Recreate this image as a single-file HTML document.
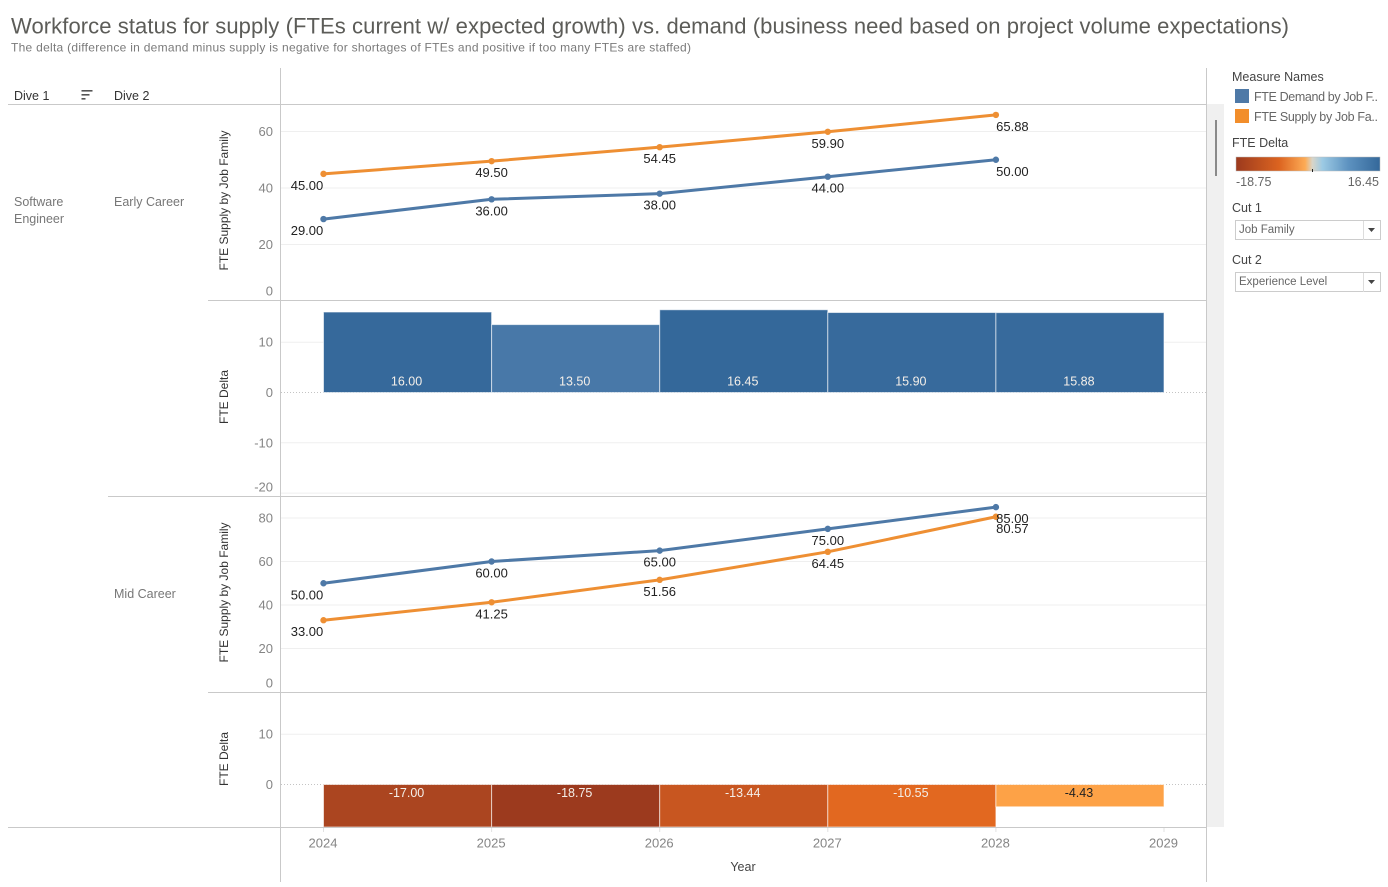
<!DOCTYPE html>
<html lang="en">
<head>
<meta charset="utf-8">
<title>Workforce status</title>
<style>
  html, body { margin: 0; padding: 0; background: #fff; }
  svg { display: block; }
  text { font-family: "Liberation Sans", sans-serif; dominant-baseline: central; }
</style>
</head>
<body>
<svg id="chart" xmlns="http://www.w3.org/2000/svg" width="1388" height="887" viewBox="0 0 1388 887">
  <rect width="1388" height="887" fill="#fff"/>
  <text x="11" y="26" font-size="22" fill="#5c5c58" textLength="1278" lengthAdjust="spacing">Workforce status for supply (FTEs current w/ expected growth) vs. demand (business need based on project volume expectations)</text>
  <text x="11" y="47.5" font-size="12" fill="#7a7a7a" textLength="680" lengthAdjust="spacing">The delta (difference in demand minus supply is negative for shortages of FTEs and positive if too many FTEs are staffed)</text>

  <text x="14" y="96" font-size="12.5" fill="#333">Dive 1</text>
  <g fill="#555">
    <rect x="81.5" y="90" width="11" height="1.6"/>
    <rect x="81.5" y="94" width="8" height="1.6"/>
    <rect x="81.5" y="98" width="4" height="1.6"/>
  </g>
  <text x="114" y="96" font-size="12.5" fill="#333">Dive 2</text>
  <text x="14" y="202" font-size="12.5" fill="#777">Software</text>
  <text x="14" y="219" font-size="12.5" fill="#777">Engineer</text>
  <text x="114" y="202" font-size="12.5" fill="#777">Early Career</text>
  <text x="114" y="594" font-size="12.5" fill="#777">Mid Career</text>

  <g id="plot"></g>

  <g stroke="#c9c9c9" stroke-width="1">
    <line x1="8" y1="104.5" x2="1206" y2="104.5"/>
    <line x1="208" y1="300.5" x2="1206" y2="300.5"/>
    <line x1="108" y1="496.5" x2="1206" y2="496.5"/>
    <line x1="208" y1="692.5" x2="1206" y2="692.5"/>
    <line x1="8" y1="827.5" x2="1206" y2="827.5"/>
    <line x1="280.5" y1="68" x2="280.5" y2="882"/>
    <line x1="1206.5" y1="68" x2="1206.5" y2="882"/>
  </g>

  <rect x="1207" y="104" width="17" height="723" fill="#f0f0f0"/>
  <rect x="1215" y="120" width="2" height="56" fill="#8a8a8a"/>

  <text x="743" y="867" font-size="12.5" fill="#444" text-anchor="middle">Year</text>
  <text transform="translate(224 200.5) rotate(-90)" font-size="12" fill="#333" text-anchor="middle">FTE Supply by Job Family</text>
  <text transform="translate(224 397) rotate(-90)" font-size="12" fill="#333" text-anchor="middle">FTE Delta</text>
  <text transform="translate(224 592.5) rotate(-90)" font-size="12" fill="#333" text-anchor="middle">FTE Supply by Job Family</text>
  <text transform="translate(224 759) rotate(-90)" font-size="12" fill="#333" text-anchor="middle">FTE Delta</text>

  <g>
    <text x="1232" y="77" font-size="12.5" fill="#444">Measure Names</text>
    <rect x="1235" y="89" width="14" height="14" fill="#4e79a7"/>
    <text x="1254" y="97" font-size="12.5" fill="#666" textLength="124" lengthAdjust="spacing">FTE Demand by Job F..</text>
    <rect x="1235" y="109" width="14" height="14" fill="#f28e2b"/>
    <text x="1254" y="117" font-size="12.5" fill="#666" textLength="124" lengthAdjust="spacing">FTE Supply by Job Fa..</text>
  </g>

  <defs>
    <linearGradient id="delta-gradient" x1="0" y1="0" x2="1" y2="0">
      <stop offset="0" stop-color="#9c3a1e"/>
      <stop offset="0.3" stop-color="#dc6420"/>
      <stop offset="0.48" stop-color="#fdab55"/>
      <stop offset="0.53" stop-color="#d9d5c8"/>
      <stop offset="0.6" stop-color="#9ccae4"/>
      <stop offset="0.78" stop-color="#5d92c0"/>
      <stop offset="1" stop-color="#34689a"/>
    </linearGradient>
  </defs>
  <g>
    <text x="1232" y="143" font-size="12.5" fill="#444">FTE Delta</text>
    <rect x="1236" y="157" width="144" height="14" fill="url(#delta-gradient)" stroke="#bbb" stroke-width="0.5"/>
    <line x1="1312.5" y1="169" x2="1312.5" y2="172" stroke="#222"/>
    <text x="1236" y="182" font-size="12.5" fill="#666">-18.75</text>
    <text x="1379" y="182" font-size="12.5" fill="#666" text-anchor="end">16.45</text>
  </g>

  <g>
    <text x="1232" y="208" font-size="12.5" fill="#444">Cut 1</text>
    <rect x="1235.5" y="220.5" width="145" height="19" fill="#fff" stroke="#ccc"/>
    <text x="1239" y="230" font-size="11.5" fill="#666">Job Family</text>
    <line x1="1363.5" y1="221" x2="1363.5" y2="240" stroke="#ddd"/>
    <path d="M1368 228h7l-3.500 4z" fill="#444"/>
  </g>
  <g>
    <text x="1232" y="260" font-size="12.5" fill="#444">Cut 2</text>
    <rect x="1235.5" y="272.5" width="145" height="19" fill="#fff" stroke="#ccc"/>
    <text x="1239" y="282" font-size="11.5" fill="#666">Experience Level</text>
    <line x1="1363.5" y1="273" x2="1363.5" y2="292" stroke="#ddd"/>
    <path d="M1368 280h7l-3.500 4z" fill="#444"/>
  </g>
</svg>

<script>
const years = [2024, 2025, 2026, 2027, 2028];
const xTickLabels = [2024, 2025, 2026, 2027, 2028, 2029];
const demandEarly = [29, 36, 38, 44, 50];
const supplyEarly = [45, 49.5, 54.45, 59.9, 65.88];
const deltaEarly = [16, 13.5, 16.45, 15.9, 15.88];
const demandMid = [50, 60, 65, 75, 85];
const supplyMid = [33, 41.25, 51.56, 64.45, 80.57];
const deltaMid = [-17, -18.75, -13.44, -10.55, -4.43];
const supplyTicksEarly = [0, 20, 40, 60];
const deltaTicksEarly = [-20, -10, 0, 10];
const supplyTicksMid = [0, 20, 40, 60, 80];
const deltaTicksMid = [0, 10];

const NS = 'http://www.w3.org/2000/svg';
const plot = document.getElementById('plot');
const PLOT_LEFT = 281, PLOT_RIGHT = 1206;

function xScale(year) { return 323.5 + (year - 2024) * 168.1; }
function linearY(zeroY, pxPerUnit) { return function (v) { return zeroY - v * pxPerUnit; }; }

function make(tag, attrs, parent) {
  const el = document.createElementNS(NS, tag);
  for (const k in attrs) el.setAttribute(k, attrs[k]);
  (parent || plot).appendChild(el);
  return el;
}

function label(txt, x, y, size, fill, anchor) {
  const el = make('text', { x: x, y: y, 'font-size': size, fill: fill, 'text-anchor': anchor });
  el.textContent = txt;
  return el;
}

function mix(a, b, t) {
  const pa = [1, 3, 5].map(function (i) { return parseInt(a.substr(i, 2), 16); });
  const pb = [1, 3, 5].map(function (i) { return parseInt(b.substr(i, 2), 16); });
  return 'rgb(' + pa.map(function (c, i) { return Math.round(c + (pb[i] - c) * t); }).join(',') + ')';
}

function deltaColor(v) {
  const stops = [[-18.75, '#9c3a1e'], [-17, '#ab4520'], [-13.44, '#c85620'], [-10.55, '#e26820'],
                 [-4.43, '#fda247'], [0, '#d9d5c8'], [4, '#9ccae4'], [13.5, '#4878a8'], [16, '#36699b'], [16.45, '#34689a']];
  if (v <= stops[0][0]) return stops[0][1];
  for (let i = 1; i < stops.length; i++) {
    if (v <= stops[i][0]) {
      return mix(stops[i - 1][1], stops[i][1], (v - stops[i - 1][0]) / (stops[i][0] - stops[i - 1][0]));
    }
  }
  return stops[stops.length - 1][1];
}

function drawYAxis(ticks, y, top, bottom, panelName) {
  ticks.forEach(function (t) {
    const py = y(t);
    if (py > top + 1 && py < bottom - 1) {
      const grid = make('line', { x1: PLOT_LEFT, x2: PLOT_RIGHT, y1: py, y2: py, stroke: t === 0 ? 'none' : '#efefef' });
      
      
    }
    const ly = Math.min(py, bottom - 9);
    const tick = label(t, 273, ly, 13, '#858585', 'end');
    
    
  });
}

function drawLine(values, color, y, seriesName) {
  const pts = values.map(function (v, i) { return xScale(years[i]) + ',' + y(v); }).join(' ');
  const line = make('polyline', { points: pts, fill: 'none', stroke: color, 'stroke-width': 3, 'stroke-linejoin': 'round' });
  
  
  values.forEach(function (v, i) {
    const dot = make('circle', { cx: xScale(years[i]), cy: y(v), r: 3.2, fill: color });
    
    
  });
}

function drawLineLabels(values, y, seriesName) {
  values.forEach(function (v, i) {
    let lx = xScale(years[i]);
    if (i === 0) lx -= 16.5;
    if (i === values.length - 1) lx += 16.5;
    const t = label(v.toFixed(2), lx, y(v) + 11.5, 13, '#222', 'middle');
    
    
  });
}

function drawBars(values, y, bottom, panelName) {
  const zero = y(0);
  const dots = make('line', { x1: PLOT_LEFT, x2: PLOT_RIGHT, y1: zero, y2: zero, stroke: '#c4c4c4', 'stroke-dasharray': '1 2' });
  
  
  values.forEach(function (v, i) {
    const x0 = xScale(years[i]);
    const x1 = xScale(years[i] + 1);
    const yv = Math.min(y(v), bottom);
    const bar = make('rect', { x: x0, y: Math.min(zero, yv), width: x1 - x0, height: Math.abs(yv - zero),
      fill: deltaColor(v), stroke: '#fff', 'stroke-opacity': 0.6, 'stroke-width': 1 });
    
    
  });
  values.forEach(function (v, i) {
    const mid = (xScale(years[i]) + xScale(years[i] + 1)) / 2 - 1;
    const ly = v >= 0 ? zero - 11 : zero + 8.5;
    const fill = v > -6 && v < 0 ? '#222' : '#f4efe9';
    const t = label(v.toFixed(2), mid, ly, 12.5, fill, 'middle');
    
    
  });
}

const ySupplyEarly = linearY(301, 2.825);
const yDeltaEarly = linearY(392.5, 5.03);
const ySupplyMid = linearY(692, 2.175);
const yDeltaMid = linearY(784.5, 5.03);

drawYAxis(supplyTicksEarly, ySupplyEarly, 104, 300, 'supply-early');
drawYAxis(deltaTicksEarly, yDeltaEarly, 300, 496, 'delta-early');
drawYAxis(supplyTicksMid, ySupplyMid, 496, 692, 'supply-mid');
drawYAxis(deltaTicksMid, yDeltaMid, 692, 827, 'delta-mid');

drawBars(deltaEarly, yDeltaEarly, 496, 'delta-early');
drawBars(deltaMid, yDeltaMid, 827, 'delta-mid');

drawLine(supplyEarly, '#ee8f33', ySupplyEarly, 'supply-early');
drawLine(demandEarly, '#4e79a7', ySupplyEarly, 'demand-early');
drawLineLabels(supplyEarly, ySupplyEarly, 'supply-early');
drawLineLabels(demandEarly, ySupplyEarly, 'demand-early');

drawLine(demandMid, '#4e79a7', ySupplyMid, 'demand-mid');
drawLine(supplyMid, '#ee8f33', ySupplyMid, 'supply-mid');
drawLineLabels(demandMid, ySupplyMid, 'demand-mid');
drawLineLabels(supplyMid, ySupplyMid, 'supply-mid');

xTickLabels.forEach(function (yr) {
  const mark = make('line', { x1: xScale(yr), x2: xScale(yr), y1: 828, y2: 832, stroke: '#e2e2e2' });
  
  
  const t = label(yr, xScale(yr) - 0.5, 843, 13, '#858585', 'middle');
  
  
});
</script>
</body>
</html>
